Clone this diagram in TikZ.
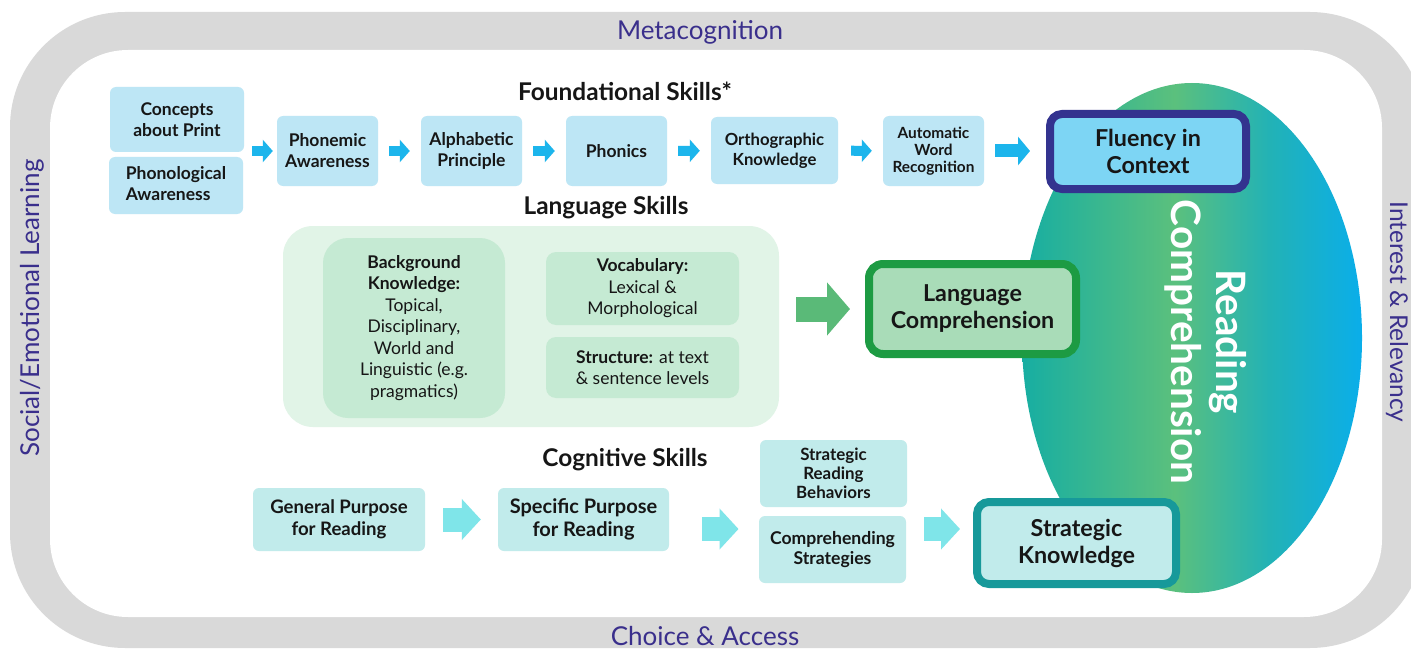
\documentclass[tikz,border=0pt]{standalone}
\usepackage{fontspec}
\setmainfont{Lato}
\usetikzlibrary{arrows.meta,shapes.geometric}
\definecolor{framegray}{HTML}{D9D9D9}
\definecolor{framelbl}{HTML}{3A2F8C}
\definecolor{txt}{HTML}{161616}
\definecolor{fblue}{HTML}{BDE6F5}
\definecolor{ablue}{HTML}{1CB5EC}
\definecolor{flufill}{HTML}{7DD5F4}
\definecolor{fluborder}{HTML}{33338F}
\definecolor{lpanel}{HTML}{E1F4E7}
\definecolor{lbox}{HTML}{C5EAD3}
\definecolor{agreen}{HTML}{5ABA78}
\definecolor{lcborder}{HTML}{1D9B43}
\definecolor{lcfill}{HTML}{A9DCB8}
\definecolor{cbox}{HTML}{C1EBEB}
\definecolor{acyan}{HTML}{7FE5E9}
\definecolor{skborder}{HTML}{17999A}
\definecolor{ec1}{HTML}{17AEA2}
\definecolor{ec2}{HTML}{5BC07D}
\definecolor{ec3}{HTML}{22B2B6}
\definecolor{ec4}{HTML}{0AAEEA}
\pgfdeclarehorizontalshading{rcshade}{100bp}{color(0bp)=(ec1); color(25bp)=(ec1); color(47.5bp)=(ec2); color(61.5bp)=(ec3); color(75bp)=(ec4); color(100bp)=(ec4)}
\tikzset{
  fbox/.style={rounded corners=6pt, fill=fblue, text=txt, align=center, inner sep=0pt,
    font=\bfseries\fontsize{17.5}{21}\selectfont},
  cogbox/.style={fbox, fill=cbox},
  lgbox/.style={rounded corners=10pt, fill=lbox, text=txt, align=center, inner sep=0pt,
    font=\fontsize{17.5}{21.5}\selectfont},
  keybox/.style={rounded corners=12pt, line width=8pt, text=txt, align=center, inner sep=0pt,
    font=\bfseries\fontsize{23.3}{27}\selectfont},
  title/.style={text=txt, font=\bfseries\fontsize{24.4}{28}\selectfont, inner sep=0pt},
  framelabel/.style={text=framelbl, font=\fontsize{26}{30}\selectfont, inner sep=0pt},
  barrow/.style={draw=ablue, line width=10pt, -{Triangle[width=22pt,length=10pt]}},
  bigbarrow/.style={draw=ablue, line width=13pt, -{Triangle[width=28pt,length=12pt]}},
  garrow/.style={draw=agreen, line width=25pt, -{Triangle[width=52pt,length=23pt]}},
  carrow/.style={draw=acyan, line width=24pt, -{Triangle[width=40pt,length=19pt]}},
}
\begin{document}
\begin{tikzpicture}[x=1pt,y=-1pt]
\useasboundingbox (0,0) rectangle (1411,650);
% frame
\fill[framegray, rounded corners=115pt] (10,12) rectangle (1425,648);
\fill[white, rounded corners=78pt] (50,50) rectangle (1382,617);
\node[framelabel] (meta) at (700,32) {Metacognition};
\node[framelabel] (choice) at (705,636) {Choice \& Access};
\node[framelabel, rotate=90] (sel) at (32,308) {Social/Emotional Learning};
\node[framelabel, rotate=-90, font=\fontsize{24.5}{28}\selectfont] (irel) at (1397,312) {Interest \& Relevancy};
% reading comprehension ellipse
\node[ellipse, shading=rcshade, minimum width=340pt, minimum height=510pt, inner sep=0pt] (rc) at (1192,338) {};
\node[rotate=-90, text=white, align=center, font=\bfseries\fontsize{40.5}{45}\selectfont, inner sep=0pt] (rctext) at (1206,342) {Reading\\Comprehension};
% titles
\node[title] (fst) at (625,91) {Foundational Skills*};
\node[title] (lst) at (606,208) {Language Skills};
\node[title] (cst) at (625,460) {Cognitive Skills};
% foundational row
\node[fbox, minimum width=134pt, minimum height=65pt] (cap) at (177,119.5) {Concepts\\about Print};
\node[fbox, minimum width=134pt, minimum height=57pt] (pho) at (176,185.5) {\begin{tabular}{@{}l@{}}Phonological\\Awareness\end{tabular}};
\node[fbox, minimum width=101pt, minimum height=70pt] (pa) at (327.5,151) {Phonemic\\Awareness};
\node[fbox, minimum width=101pt, minimum height=70pt] (ap) at (471.5,151) {Alphabetic\\Principle};
\node[fbox, minimum width=101pt, minimum height=70pt] (phn) at (616.5,151) {Phonics};
\node[fbox, minimum width=127pt, minimum height=67pt, font=\bfseries\fontsize{16.7}{20}\selectfont] (ok) at (774.5,150.5) {Orthographic\\Knowledge};
\node[fbox, minimum width=101pt, minimum height=70pt, font=\bfseries\fontsize{15.4}{17}\selectfont] (awr) at (933.5,151) {Automatic\\Word\\Recognition};
\node[keybox, draw=fluborder, fill=flufill, minimum width=196pt, minimum height=75pt] (flu) at (1148,151.5) {Fluency in\\Context};
\draw[barrow, shorten <=8pt, shorten >=4pt] (pa.west -| cap.east) -- (pa.west);
\draw[barrow, shorten <=11pt, shorten >=11pt] (pa) -- (ap);
\draw[barrow, shorten <=11pt, shorten >=11pt] (ap) -- (phn);
\draw[barrow, shorten <=11pt, shorten >=11pt] (phn) -- (ok);
\draw[barrow, shorten <=13pt, shorten >=11pt] (ok) -- (awr);
\draw[bigbarrow, shorten <=11pt, shorten >=16pt] (awr.east) -- (awr.east -| flu.west);
% language
\node[rounded corners=30pt, fill=lpanel, minimum width=496pt, minimum height=201pt, inner sep=0pt] (lp) at (531,326.5) {};
\node[lgbox, rounded corners=25pt, minimum width=182pt, minimum height=180pt] (bk) at (414,328) {\textbf{Background}\\\textbf{Knowledge:}\\Topical,\\Disciplinary,\\World and\\Linguistic (e.g.\\pragmatics)};
\node[lgbox, minimum width=193pt, minimum height=73pt] (voc) at (642.5,288.5) {\textbf{Vocabulary:}\\Lexical \&\\Morphological};
\node[lgbox, minimum width=193pt, minimum height=61pt] (strc) at (642.5,367.5) {\textbf{Structure:} at text\\\& sentence levels};
\node[keybox, rounded corners=14pt, draw=lcborder, fill=lcfill, minimum width=207pt, minimum height=90pt] (lc) at (972.5,309) {Language\\Comprehension};
\draw[garrow, shorten <=17pt, shorten >=15pt] (lc.west -| lp.east) -- (lc.west);
% cognitive
\node[cogbox, minimum width=172pt, minimum height=63pt, font=\bfseries\fontsize{18.6}{22}\selectfont] (gp) at (339,519.5) {General Purpose\\for Reading};
\node[cogbox, minimum width=171pt, minimum height=63pt, font=\bfseries\fontsize{20}{23}\selectfont] (sp) at (583.5,519.5) {Specific Purpose\\for Reading};
\node[cogbox, minimum width=147pt, minimum height=67pt, font=\bfseries\fontsize{16.9}{19}\selectfont] (srb) at (833.5,473.5) {Strategic\\Reading\\Behaviors};
\node[cogbox, minimum width=147pt, minimum height=67pt, font=\bfseries\fontsize{17.6}{20.5}\selectfont] (cs) at (832.5,549.5) {Comprehending\\Strategies};
\node[keybox, draw=skborder, fill=cbox, minimum width=199pt, minimum height=82pt] (sk) at (1076.5,543) {Strategic\\Knowledge};
\coordinate (cgin) at (759.5,529);
\coordinate (cgout) at (907,529);
\draw[carrow, shorten <=18pt, shorten >=17pt] (gp) -- (sp);
\draw[carrow, shorten <=33pt, shorten >=21pt] (sp.east |- cgin) -- (cgin);
\draw[carrow, shorten <=17pt, shorten >=13pt] (cgout) -- (sk.west |- cgout);
\end{tikzpicture}
\end{document}
